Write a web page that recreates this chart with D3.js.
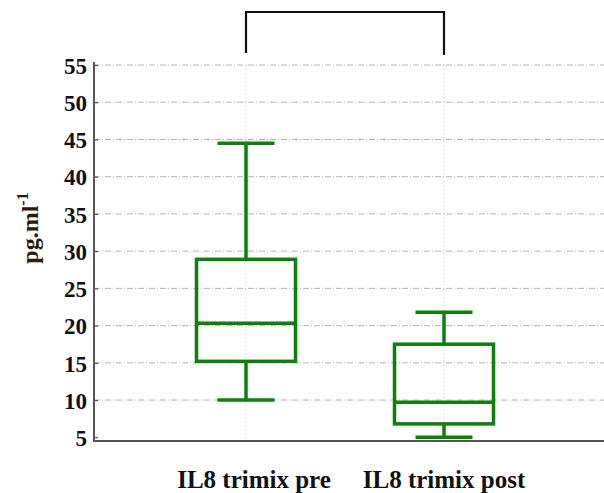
<!DOCTYPE html>
<html>
<head>
<meta charset="utf-8">
<script src="https://cdn.jsdelivr.net/npm/d3@7"></script>
<style>
  html, body { margin: 0; padding: 0; background: #fff; }
  svg { display: block; }
</style>
</head>
<body>
<div id="chart"></div>
<script>
// IL8 concentration before and after trimix
const categories = ["IL8 trimix pre", "IL8 trimix post"];
const whiskerLow  = [10.0, 5.0];
const q1          = [15.2, 6.8];
const median      = [20.3, 9.7];
const q3          = [28.9, 17.5];
const whiskerHigh = [44.5, 21.8];
const yTicks = [5, 10, 15, 20, 25, 30, 35, 40, 45, 50, 55];

const W = 604, H = 493;
const green = "#0b800b";
const serif = "Liberation Serif, Times New Roman, serif";

const svg = d3.select("#chart").append("svg")
  .attr("width", W).attr("height", H);

const y = d3.scaleLinear().domain([4.5, 55]).range([441, 65]);
const x = d3.scaleBand().domain(categories).range([147, 543]);
const cx = c => x(c) + x.bandwidth() / 2;

const axisX = 94, rightEdge = 604;

// horizontal grid (dash-dot)
svg.append("g").selectAll("line").data(yTicks.filter(t => t > 5)).join("line")
  .attr("x1", axisX).attr("x2", rightEdge)
  .attr("y1", d => y(d)).attr("y2", d => y(d))
  .attr("stroke", "#b4b4b4").attr("stroke-width", 1)
  .attr("stroke-dasharray", "6,2,1,2");

// vertical grid at category centres (dotted)
svg.append("g").selectAll("line").data(categories).join("line")
  .attr("x1", d => cx(d)).attr("x2", d => cx(d))
  .attr("y1", y(55)).attr("y2", y(4.5))
  .attr("stroke", "#c4c4c4").attr("stroke-width", 1)
  .attr("stroke-dasharray", "1,3");

// y axis
const yAxis = d3.axisLeft(y).tickValues(yTicks).tickSize(-4).tickPadding(7)
  .tickFormat(d3.format("d"));
const gy = svg.append("g").attr("transform", `translate(${axisX},0)`).call(yAxis);
gy.select(".domain").remove();
gy.selectAll(".tick line").attr("stroke", "#555").attr("stroke-width", 1.2);
gy.selectAll(".tick text")
  .attr("font-family", serif)
  .attr("font-weight", "bold").attr("font-size", 23).attr("fill", "#111")
  .attr("dy", "0.36em");
svg.append("line")
  .attr("x1", axisX).attr("x2", axisX).attr("y1", y(55) - 3).attr("y2", y(4.5) + 1)
  .attr("stroke", "#555").attr("stroke-width", 2);

// x axis baseline
svg.append("line")
  .attr("x1", axisX).attr("x2", rightEdge).attr("y1", y(4.5)).attr("y2", y(4.5))
  .attr("stroke", "#555").attr("stroke-width", 2);

// category labels
svg.append("g").selectAll("text").data(categories).join("text")
  .attr("x", (d, i) => cx(d) + (i === 0 ? 8 : 0)).attr("y", 488)
  .attr("text-anchor", "middle")
  .attr("font-family", serif)
  .attr("font-weight", "bold").attr("font-size", 25).attr("fill", "#111")
  .text(d => d);

// y axis title
const yt = svg.append("text")
  .attr("transform", `translate(38,228) rotate(-90)`)
  .attr("text-anchor", "middle")
  .attr("font-family", serif)
  .attr("font-weight", "bold").attr("font-size", 24).attr("fill", "#2a1c0c");
yt.append("tspan").text("pg.ml");
yt.append("tspan").attr("dy", -10).attr("font-size", 16).text("-1");

// box plots
const boxW = 99, capW = 57;
const boxes = svg.append("g").selectAll("g").data(categories).join("g")
  .attr("fill", "none").attr("stroke", green).attr("stroke-width", 3.5);

boxes.append("line") // upper whisker
  .attr("x1", d => cx(d)).attr("x2", d => cx(d))
  .attr("y1", (d, i) => y(whiskerHigh[i])).attr("y2", (d, i) => y(q3[i]));
boxes.append("line") // lower whisker
  .attr("x1", d => cx(d)).attr("x2", d => cx(d))
  .attr("y1", (d, i) => y(q1[i])).attr("y2", (d, i) => y(whiskerLow[i]));
boxes.append("line") // top cap
  .attr("x1", d => cx(d) - capW / 2).attr("x2", d => cx(d) + capW / 2)
  .attr("y1", (d, i) => y(whiskerHigh[i])).attr("y2", (d, i) => y(whiskerHigh[i]));
boxes.append("line") // bottom cap
  .attr("x1", d => cx(d) - capW / 2).attr("x2", d => cx(d) + capW / 2)
  .attr("y1", (d, i) => y(whiskerLow[i])).attr("y2", (d, i) => y(whiskerLow[i]));
boxes.append("rect")
  .attr("x", d => cx(d) - boxW / 2).attr("width", boxW)
  .attr("y", (d, i) => y(q3[i])).attr("height", (d, i) => y(q1[i]) - y(q3[i]));
boxes.append("line") // median
  .attr("x1", d => cx(d) - boxW / 2).attr("x2", d => cx(d) + boxW / 2)
  .attr("y1", (d, i) => y(median[i])).attr("y2", (d, i) => y(median[i]));

// comparison bracket
const bx1 = cx(categories[0]), bx2 = cx(categories[1]);
svg.append("path")
  .attr("d", `M${bx1},53 V12 H${bx2} V55`)
  .attr("fill", "none").attr("stroke", "#111").attr("stroke-width", 2.2);
</script>
</body>
</html>
